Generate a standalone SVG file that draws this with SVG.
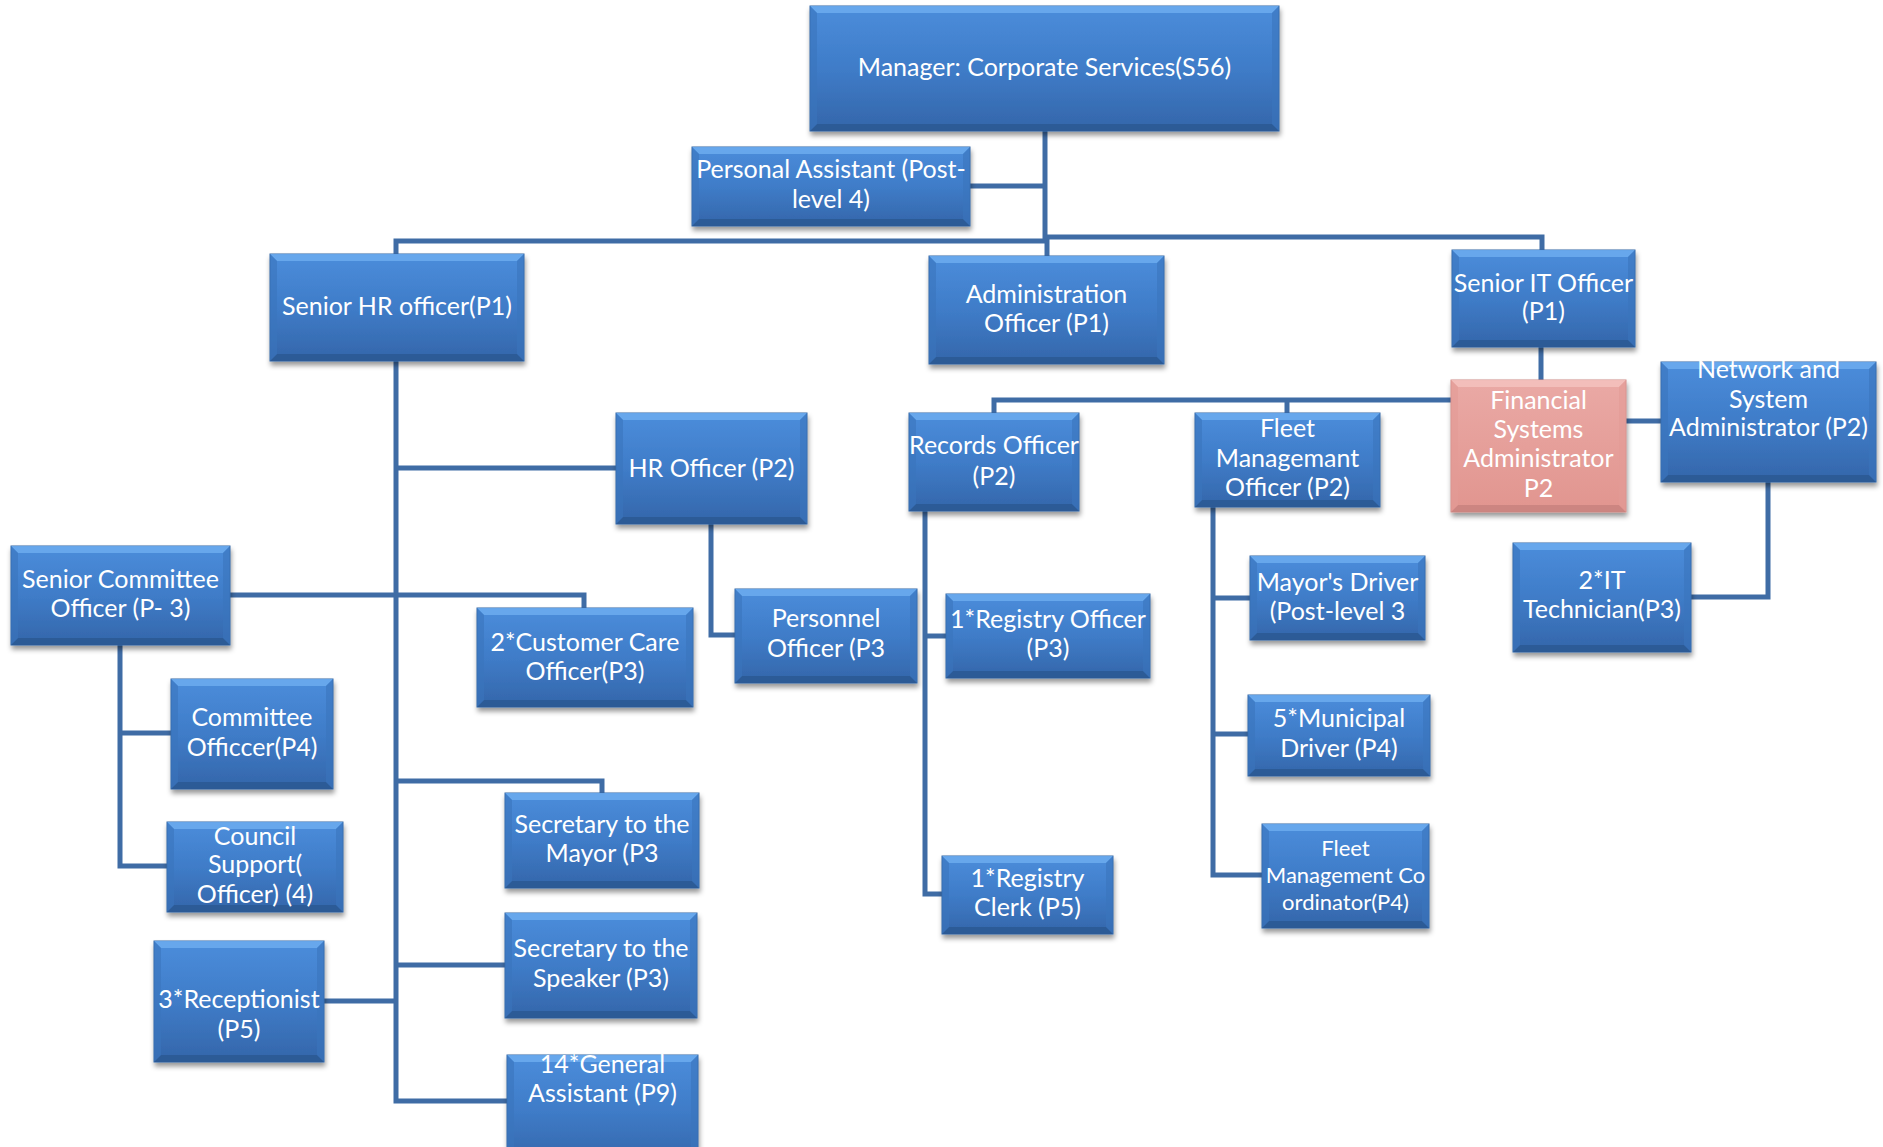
<svg xmlns="http://www.w3.org/2000/svg" width="1883" height="1147" viewBox="0 0 1883 1147">
<style>
.bg{fill:#ffffff}
.cn path{fill:none;stroke:#3f6ca5;stroke-width:5;stroke-linejoin:miter}
.box{fill:url(#gb);stroke:#3366a6;stroke-width:1;filter:url(#sh)}
.pink .box{fill:url(#gp);stroke:#d08c88}
.bt{fill:#6cabef;opacity:.85}
.bb{fill:#2a5791;opacity:.8}
.bs{fill:#3a74bd;opacity:.6}
.pink .bt{fill:#f5c2be}
.pink .bb{fill:#c7817d}
.pink .bs{fill:#e39b96}
text{font-family:Lato,"Open Sans","Liberation Sans",sans-serif;font-size:25px;fill:#ffffff;text-anchor:middle}
.sm{font-size:22px}
</style>
<defs>
<linearGradient id="gb" x1="0" y1="0" x2="0" y2="1">
<stop offset="0" stop-color="#4b8ddb"/>
<stop offset="0.5" stop-color="#3f7cc8"/>
<stop offset="1" stop-color="#3466aa"/>
</linearGradient>
<linearGradient id="gp" x1="0" y1="0" x2="0" y2="1">
<stop offset="0" stop-color="#eaa9a5"/>
<stop offset="1" stop-color="#e1958f"/>
</linearGradient>
<filter id="sh" x="-10%" y="-10%" width="125%" height="135%">
<feDropShadow dx="1" dy="4" stdDeviation="2.5" flood-color="#000" flood-opacity="0.4"/>
</filter>
</defs>
<rect class="bg" x="0" y="0" width="1883" height="1147"/>

<g id="connectors" class="cn">
<path d="M1045,131 V240"/>
<path d="M1047,238 V256"/>
<path d="M970,186 H1045"/>
<path d="M1045,237 H1542 V250"/>
<path d="M396,254 V241 H1047"/>
<path d="M1541,347 V380"/>
<path d="M994,413 V400 H1451"/>
<path d="M1287,400 V413"/>
<path d="M1626,421 H1661"/>
<path d="M1768,482 V597 H1691"/>
<path d="M396,361 V1101 H507"/>
<path d="M396,468 H616"/>
<path d="M230,595 H584 V608"/>
<path d="M396,781 H602 V793"/>
<path d="M396,965 H505"/>
<path d="M324,1001 H396"/>
<path d="M120,645 V866 H167"/>
<path d="M120,733 H171"/>
<path d="M711,524 V635 H735"/>
<path d="M925,511 V894 H942"/>
<path d="M925,636 H946"/>
<path d="M1213,507 V875 H1262"/>
<path d="M1213,598 H1250"/>
<path d="M1213,734 H1248"/>
</g>

<g id="n-manager" class="node">
<rect class="box" x="810" y="6" width="469" height="125"/>
<path class="bt" d="M810,6 h469 l-7,7 h-455 z"/><path class="bb" d="M810,131 h469 l-7,-7 h-455 z"/>
<path class="bs" d="M810,6 l7,7 v111 l-7,7 z"/><path class="bs" d="M1279,6 l-7,7 v111 l7,7 z"/>
<text x="1044.5" y="76">Manager: Corporate Services(S56)</text>
</g>

<g id="n-pa" class="node">
<rect class="box" x="692" y="147" width="278" height="79"/>
<path class="bt" d="M692,147 h278 l-7,7 h-264 z"/><path class="bb" d="M692,226 h278 l-7,-7 h-264 z"/>
<path class="bs" d="M692,147 l7,7 v65 l-7,7 z"/><path class="bs" d="M970,147 l-7,7 v65 l7,7 z"/>
<text x="831" y="178">Personal Assistant (Post-</text><text x="831" y="208">level 4)</text>
</g>

<g id="n-shr" class="node">
<rect class="box" x="270" y="254" width="254" height="107"/>
<path class="bt" d="M270,254 h254 l-7,7 h-240 z"/><path class="bb" d="M270,361 h254 l-7,-7 h-240 z"/>
<path class="bs" d="M270,254 l7,7 v93 l-7,7 z"/><path class="bs" d="M524,254 l-7,7 v93 l7,7 z"/>
<text x="397" y="315">Senior HR officer(P1)</text>
</g>

<g id="n-admin" class="node">
<rect class="box" x="929" y="256" width="235" height="108"/>
<path class="bt" d="M929,256 h235 l-7,7 h-221 z"/><path class="bb" d="M929,364 h235 l-7,-7 h-221 z"/>
<path class="bs" d="M929,256 l7,7 v94 l-7,7 z"/><path class="bs" d="M1164,256 l-7,7 v94 l7,7 z"/>
<text x="1046.5" y="303">Administration</text><text x="1046.5" y="332">Officer (P1)</text>
</g>

<g id="n-sit" class="node">
<rect class="box" x="1452" y="250" width="183" height="97"/>
<path class="bt" d="M1452,250 h183 l-7,7 h-169 z"/><path class="bb" d="M1452,347 h183 l-7,-7 h-169 z"/>
<path class="bs" d="M1452,250 l7,7 v83 l-7,7 z"/><path class="bs" d="M1635,250 l-7,7 v83 l7,7 z"/>
<text x="1543.5" y="292">Senior IT Officer</text><text x="1543.5" y="320">(P1)</text>
</g>

<g id="n-hro" class="node">
<rect class="box" x="616" y="413" width="191" height="111"/>
<path class="bt" d="M616,413 h191 l-7,7 h-177 z"/><path class="bb" d="M616,524 h191 l-7,-7 h-177 z"/>
<path class="bs" d="M616,413 l7,7 v97 l-7,7 z"/><path class="bs" d="M807,413 l-7,7 v97 l7,7 z"/>
<text x="711.5" y="477">HR Officer (P2)</text>
</g>

<g id="n-rec" class="node">
<rect class="box" x="909" y="413" width="170" height="98"/>
<path class="bt" d="M909,413 h170 l-7,7 h-156 z"/><path class="bb" d="M909,511 h170 l-7,-7 h-156 z"/>
<path class="bs" d="M909,413 l7,7 v84 l-7,7 z"/><path class="bs" d="M1079,413 l-7,7 v84 l7,7 z"/>
<text x="994" y="454">Records Officer</text><text x="994" y="485">(P2)</text>
</g>

<g id="n-fleet" class="node">
<rect class="box" x="1195" y="413" width="185" height="94"/>
<path class="bt" d="M1195,413 h185 l-7,7 h-171 z"/><path class="bb" d="M1195,507 h185 l-7,-7 h-171 z"/>
<path class="bs" d="M1195,413 l7,7 v80 l-7,7 z"/><path class="bs" d="M1380,413 l-7,7 v80 l7,7 z"/>
<text x="1287.5" y="437">Fleet</text><text x="1287.5" y="467">Managemant</text><text x="1287.5" y="496">Officer (P2)</text>
</g>

<g id="n-fin" class="node pink">
<rect class="box" x="1451" y="380" width="175" height="132"/>
<path class="bt" d="M1451,380 h175 l-7,7 h-161 z"/><path class="bb" d="M1451,512 h175 l-7,-7 h-161 z"/>
<path class="bs" d="M1451,380 l7,7 v118 l-7,7 z"/><path class="bs" d="M1626,380 l-7,7 v118 l7,7 z"/>
<text x="1538.5" y="409">Financial</text><text x="1538.5" y="438">Systems</text><text x="1538.5" y="467">Administrator</text><text x="1538.5" y="497">P2</text>
</g>

<g id="n-net" class="node">
<rect class="box" x="1661" y="362" width="215" height="120"/>
<path class="bt" d="M1661,362 h215 l-7,7 h-201 z"/><path class="bb" d="M1661,482 h215 l-7,-7 h-201 z"/>
<path class="bs" d="M1661,362 l7,7 v106 l-7,7 z"/><path class="bs" d="M1876,362 l-7,7 v106 l7,7 z"/>
<text x="1768.5" y="378">Network and</text><text x="1768.5" y="408">System</text><text x="1768.5" y="436">Administrator (P2)</text>
</g>

<g id="n-sco" class="node">
<rect class="box" x="11" y="546" width="219" height="99"/>
<path class="bt" d="M11,546 h219 l-7,7 h-205 z"/><path class="bb" d="M11,645 h219 l-7,-7 h-205 z"/>
<path class="bs" d="M11,546 l7,7 v85 l-7,7 z"/><path class="bs" d="M230,546 l-7,7 v85 l7,7 z"/>
<text x="120.5" y="588">Senior Committee</text><text x="120.5" y="617">Officer (P- 3)</text>
</g>

<g id="n-cco" class="node">
<rect class="box" x="477" y="608" width="216" height="99"/>
<path class="bt" d="M477,608 h216 l-7,7 h-202 z"/><path class="bb" d="M477,707 h216 l-7,-7 h-202 z"/>
<path class="bs" d="M477,608 l7,7 v85 l-7,7 z"/><path class="bs" d="M693,608 l-7,7 v85 l7,7 z"/>
<text x="585" y="651">2*Customer Care</text><text x="585" y="680">Officer(P3)</text>
</g>

<g id="n-pers" class="node">
<rect class="box" x="735" y="589" width="182" height="94"/>
<path class="bt" d="M735,589 h182 l-7,7 h-168 z"/><path class="bb" d="M735,683 h182 l-7,-7 h-168 z"/>
<path class="bs" d="M735,589 l7,7 v80 l-7,7 z"/><path class="bs" d="M917,589 l-7,7 v80 l7,7 z"/>
<text x="826" y="627">Personnel</text><text x="826" y="657">Officer (P3</text>
</g>

<g id="n-rego" class="node">
<rect class="box" x="946" y="594" width="204" height="84"/>
<path class="bt" d="M946,594 h204 l-7,7 h-190 z"/><path class="bb" d="M946,678 h204 l-7,-7 h-190 z"/>
<path class="bs" d="M946,594 l7,7 v70 l-7,7 z"/><path class="bs" d="M1150,594 l-7,7 v70 l7,7 z"/>
<text x="1048" y="628">1*Registry Officer</text><text x="1048" y="657">(P3)</text>
</g>

<g id="n-mdr" class="node">
<rect class="box" x="1250" y="556" width="175" height="84"/>
<path class="bt" d="M1250,556 h175 l-7,7 h-161 z"/><path class="bb" d="M1250,640 h175 l-7,-7 h-161 z"/>
<path class="bs" d="M1250,556 l7,7 v70 l-7,7 z"/><path class="bs" d="M1425,556 l-7,7 v70 l7,7 z"/>
<text x="1337.5" y="591">Mayor's Driver</text><text x="1337.5" y="620">(Post-level 3</text>
</g>

<g id="n-itt" class="node">
<rect class="box" x="1513" y="543" width="178" height="109"/>
<path class="bt" d="M1513,543 h178 l-7,7 h-164 z"/><path class="bb" d="M1513,652 h178 l-7,-7 h-164 z"/>
<path class="bs" d="M1513,543 l7,7 v95 l-7,7 z"/><path class="bs" d="M1691,543 l-7,7 v95 l7,7 z"/>
<text x="1602" y="589">2*IT</text><text x="1602" y="618">Technician(P3)</text>
</g>

<g id="n-com" class="node">
<rect class="box" x="171" y="679" width="162" height="110"/>
<path class="bt" d="M171,679 h162 l-7,7 h-148 z"/><path class="bb" d="M171,789 h162 l-7,-7 h-148 z"/>
<path class="bs" d="M171,679 l7,7 v96 l-7,7 z"/><path class="bs" d="M333,679 l-7,7 v96 l7,7 z"/>
<text x="252" y="726">Committee</text><text x="252" y="756">Officcer(P4)</text>
</g>

<g id="n-smay" class="node">
<rect class="box" x="505" y="793" width="194" height="95"/>
<path class="bt" d="M505,793 h194 l-7,7 h-180 z"/><path class="bb" d="M505,888 h194 l-7,-7 h-180 z"/>
<path class="bs" d="M505,793 l7,7 v81 l-7,7 z"/><path class="bs" d="M699,793 l-7,7 v81 l7,7 z"/>
<text x="602" y="833">Secretary to the</text><text x="602" y="862">Mayor (P3</text>
</g>

<g id="n-mun" class="node">
<rect class="box" x="1248" y="695" width="182" height="81"/>
<path class="bt" d="M1248,695 h182 l-7,7 h-168 z"/><path class="bb" d="M1248,776 h182 l-7,-7 h-168 z"/>
<path class="bs" d="M1248,695 l7,7 v67 l-7,7 z"/><path class="bs" d="M1430,695 l-7,7 v67 l7,7 z"/>
<text x="1339" y="727">5*Municipal</text><text x="1339" y="757">Driver (P4)</text>
</g>

<g id="n-cou" class="node">
<rect class="box" x="167" y="822" width="176" height="90"/>
<path class="bt" d="M167,822 h176 l-7,7 h-162 z"/><path class="bb" d="M167,912 h176 l-7,-7 h-162 z"/>
<path class="bs" d="M167,822 l7,7 v76 l-7,7 z"/><path class="bs" d="M343,822 l-7,7 v76 l7,7 z"/>
<text x="255" y="845">Council</text><text x="255" y="873">Support(</text><text x="255" y="903">Officer) (4)</text>
</g>

<g id="n-fco" class="node">
<rect class="box" x="1262" y="824" width="167" height="104"/>
<path class="bt" d="M1262,824 h167 l-7,7 h-153 z"/><path class="bb" d="M1262,928 h167 l-7,-7 h-153 z"/>
<path class="bs" d="M1262,824 l7,7 v90 l-7,7 z"/><path class="bs" d="M1429,824 l-7,7 v90 l7,7 z"/>
<text class="sm" x="1345.5" y="856">Fleet</text><text class="sm" x="1345.5" y="883">Management Co</text><text class="sm" x="1345.5" y="910">ordinator(P4)</text>
</g>

<g id="n-regc" class="node">
<rect class="box" x="942" y="856" width="171" height="78"/>
<path class="bt" d="M942,856 h171 l-7,7 h-157 z"/><path class="bb" d="M942,934 h171 l-7,-7 h-157 z"/>
<path class="bs" d="M942,856 l7,7 v64 l-7,7 z"/><path class="bs" d="M1113,856 l-7,7 v64 l7,7 z"/>
<text x="1027.5" y="887">1*Registry</text><text x="1027.5" y="916">Clerk (P5)</text>
</g>

<g id="n-sspk" class="node">
<rect class="box" x="505" y="913" width="192" height="105"/>
<path class="bt" d="M505,913 h192 l-7,7 h-178 z"/><path class="bb" d="M505,1018 h192 l-7,-7 h-178 z"/>
<path class="bs" d="M505,913 l7,7 v91 l-7,7 z"/><path class="bs" d="M697,913 l-7,7 v91 l7,7 z"/>
<text x="601" y="957">Secretary to the</text><text x="601" y="987">Speaker (P3)</text>
</g>

<g id="n-rcp" class="node">
<rect class="box" x="154" y="941" width="170" height="121"/>
<path class="bt" d="M154,941 h170 l-7,7 h-156 z"/><path class="bb" d="M154,1062 h170 l-7,-7 h-156 z"/>
<path class="bs" d="M154,941 l7,7 v107 l-7,7 z"/><path class="bs" d="M324,941 l-7,7 v107 l7,7 z"/>
<text x="239" y="1008">3*Receptionist</text><text x="239" y="1038">(P5)</text>
</g>

<g id="n-gen" class="node">
<rect class="box" x="507" y="1055" width="191" height="110"/>
<path class="bt" d="M507,1055 h191 l-7,7 h-177 z"/>
<path class="bs" d="M507,1055 l7,7 v103 l-7,0 z"/><path class="bs" d="M698,1055 l-7,7 v103 l7,0 z"/>
<text x="602.5" y="1073">14*General</text><text x="602.5" y="1102">Assistant (P9)</text>
</g>
</svg>
